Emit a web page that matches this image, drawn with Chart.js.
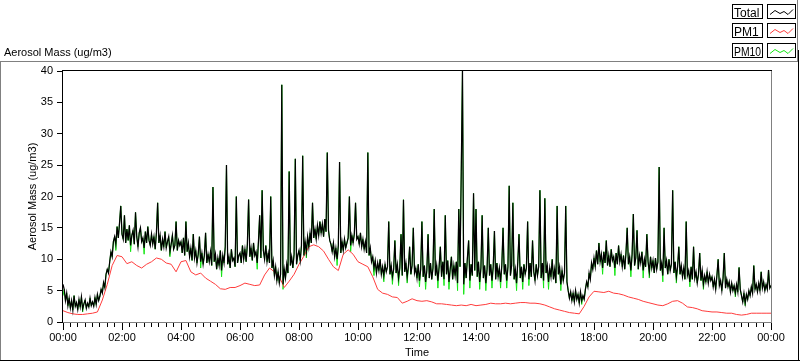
<!DOCTYPE html>
<html><head><meta charset="utf-8">
<script src="https://cdn.jsdelivr.net/npm/chart.js@4"></script>
<style>html,body{margin:0;padding:0;background:#fff;overflow:hidden}canvas{display:block}</style>
</head><body>
<canvas id="c" width="800" height="361"></canvas>
<script>
// ---- data ----
const seriesNames = ['Total', 'PM1', 'PM10'];
const totalStepMin = 2.5;  // minutes between Total / PM10 samples
const pm1StepMin = 10;     // minutes between PM1 samples

// one row per hour
const total = [
 6.0,5.2,3.4,4.6,2.6,3.8,2.2,3.4,1.9,4.2,2.5,3.1,2.0,3.6,2.4,4.0,2.1,2.9,3.5,2.2,3.0,2.4,3.8,2.6,
 3.2,2.5,3.9,2.8,4.4,3.4,4.1,5.2,4.6,6.3,5.5,7.6,8.4,7.8,9.6,11.2,10.4,12.8,13.6,12.4,15.2,13.4,15.8,18.5,
 14.0,13.2,17.0,12.6,14.8,13.0,15.4,12.2,13.8,14.6,12.4,17.5,13.6,12.0,14.2,15.0,12.8,13.4,11.8,14.4,12.6,15.2,13.0,12.2,
 14.0,12.4,13.6,11.6,14.2,19.0,12.6,13.8,11.4,13.2,12.0,14.4,11.8,12.8,13.6,11.2,12.4,13.8,11.6,12.2,16.0,11.4,13.0,12.2,
 12.8,11.0,13.4,10.6,16.0,11.2,12.6,10.4,11.8,9.8,14.0,10.2,11.4,9.4,10.8,13.6,9.6,11.0,9.2,10.6,14.2,9.4,10.8,9.6,
 11.2,9.0,21.5,9.6,10.8,8.4,10.2,9.0,11.4,8.2,10.6,9.4,12.0,25.0,9.2,10.4,8.6,11.6,9.8,10.2,8.8,20.0,9.4,10.6,
 11.0,9.4,12.2,10.0,11.6,9.6,12.4,19.5,10.4,11.8,9.8,12.6,10.6,11.2,9.4,12.8,17.0,10.2,21.0,11.4,10.0,12.2,9.6,11.0,
 9.4,20.0,8.6,9.8,7.4,8.8,6.6,8.0,6.2,7.6,37.8,6.0,8.4,7.0,9.2,7.8,24.0,9.0,10.4,8.6,10.8,26.0,9.2,10.6,
 11.4,9.8,12.2,26.5,10.6,12.8,11.2,13.6,12.0,14.2,12.6,19.0,13.4,14.8,13.2,15.4,13.8,16.0,14.2,15.6,13.6,16.4,14.4,27.0,
 14.6,13.0,12.4,11.2,12.6,10.4,11.8,10.0,12.2,25.5,11.0,12.8,11.4,13.2,11.8,12.6,13.4,20.0,12.2,13.8,12.6,14.0,19.0,13.2,
 13.6,12.4,14.2,12.0,13.2,11.6,12.8,11.0,27.0,10.6,11.8,9.6,10.4,8.6,9.8,7.8,9.4,8.2,10.0,7.6,8.8,7.4,9.2,8.0,
 8.8,16.0,7.6,9.0,7.2,8.4,13.0,7.8,9.2,7.0,8.6,14.0,7.4,19.5,8.0,9.4,7.2,8.8,12.0,7.6,9.0,15.0,7.8,8.6,
 7.0,9.2,6.6,8.4,16.0,7.2,9.0,6.4,8.2,14.0,7.0,9.4,6.8,8.6,18.0,7.4,9.0,6.6,8.8,12.0,7.2,9.6,6.8,17.0,
 7.6,9.8,6.4,8.4,10.4,6.8,9.0,7.4,9.6,6.2,18.0,8.8,24.0,40.0,6.0,9.4,7.0,10.2,13.0,6.6,9.2,7.4,20.5,8.2,
 18.0,7.2,9.6,6.4,8.6,17.0,7.0,9.0,6.2,8.4,15.0,7.4,9.2,6.6,8.8,14.5,6.8,9.4,7.2,8.6,6.4,9.0,15.0,7.6,
 9.2,6.6,8.8,21.7,7.4,9.0,19.0,6.8,8.4,6.2,9.6,14.0,7.0,8.8,6.4,9.2,7.6,8.6,16.0,6.8,9.4,7.2,13.0,8.0,
 6.6,9.2,7.4,8.8,21.0,7.0,9.4,6.6,19.7,7.8,9.0,6.4,8.6,7.2,10.0,6.8,8.4,6.2,18.5,7.6,8.8,6.0,8.2,6.6,
 7.8,18.5,6.4,5.0,3.8,4.8,3.4,4.6,3.2,5.0,3.6,4.4,3.0,4.8,3.4,4.2,3.6,5.2,6.4,5.6,7.8,6.8,9.4,8.4,
 10.2,8.8,11.4,9.2,12.6,9.6,10.8,8.6,11.2,9.4,13.0,9.0,10.6,8.8,11.6,9.8,10.4,8.6,11.0,9.2,12.2,9.6,10.8,8.8,
 10.6,8.4,11.0,15.0,9.2,10.4,8.2,10.8,17.2,9.0,10.2,14.6,8.4,10.6,9.4,11.2,8.2,10.0,8.8,14.0,9.6,8.0,10.4,8.6,
 9.8,7.8,10.2,8.4,9.6,24.7,8.2,9.4,7.4,15.0,8.6,9.8,7.6,10.0,8.2,9.2,21.0,7.8,9.6,7.2,8.8,12.0,7.6,9.0,
 7.2,8.6,6.8,16.0,7.4,8.2,6.4,8.8,6.8,12.0,7.0,8.0,6.2,7.6,11.0,6.6,8.2,6.0,7.4,6.4,8.0,6.2,7.6,6.6,
 7.2,5.6,6.8,5.2,7.4,10.0,5.8,6.6,5.0,7.0,11.0,5.4,6.8,5.6,6.4,4.8,6.2,5.0,5.8,4.6,6.0,4.8,8.7,5.2,
 4.2,3.2,4.6,3.0,4.4,3.6,5.0,4.2,5.6,4.6,9.0,5.2,6.0,4.8,6.2,5.0,8.0,5.4,6.4,5.0,6.0,5.2,8.3,5.4,5.8
];

const pm10 = [
 4.2,5.2,3.4,4.6,2.6,3.8,2.2,3.4,1.9,4.2,2.5,3.1,2.0,3.6,2.4,4.0,1.6,2.9,3.5,2.2,3.0,2.4,3.8,2.6,
 3.2,2.5,3.9,2.8,4.4,3.4,4.1,5.2,4.6,6.3,5.5,7.6,8.4,7.8,9.6,11.2,10.4,12.8,13.6,11.4,15.2,13.4,15.8,18.5,
 14.0,13.2,17.0,12.6,14.8,13.0,15.4,11.2,13.8,14.6,12.4,17.5,13.6,12.0,14.2,15.0,12.8,13.4,10.8,14.4,12.6,15.2,13.0,12.2,
 14.0,12.4,13.6,11.6,14.2,19.0,12.6,13.8,11.4,13.2,12.0,14.4,11.8,12.8,13.6,10.4,12.4,13.8,11.6,12.2,16.0,11.4,13.0,12.2,
 12.8,11.0,13.4,10.6,16.0,11.2,12.6,10.4,11.8,9.8,14.0,10.2,11.4,9.4,10.8,13.6,8.6,11.0,9.2,10.6,14.2,9.4,10.8,9.6,
 11.2,9.0,21.5,9.6,10.8,8.4,10.2,9.0,11.4,7.2,10.6,9.4,12.0,25.0,9.2,10.4,8.6,11.6,9.8,10.2,8.8,20.0,9.4,10.6,
 11.0,9.4,12.2,10.0,11.6,9.6,12.4,19.5,10.4,11.8,9.8,12.6,10.6,11.2,8.4,12.8,17.0,10.2,21.0,11.4,10.0,12.2,9.6,11.0,
 9.4,20.0,8.6,9.8,7.4,8.8,6.6,8.0,6.2,7.6,37.8,5.2,8.4,7.0,9.2,7.8,24.0,9.0,10.4,8.6,10.8,26.0,9.2,10.6,
 11.4,9.8,12.2,26.5,10.6,12.8,10.2,13.6,12.0,14.2,12.6,19.0,13.4,14.8,13.2,15.4,13.8,16.0,14.2,15.6,13.6,16.4,14.4,27.0,
 14.6,13.0,12.4,11.2,12.6,10.4,11.8,9.0,12.2,25.5,11.0,12.8,11.4,13.2,11.8,12.6,13.4,20.0,11.2,13.8,12.6,14.0,19.0,13.2,
 13.6,12.4,14.2,12.0,13.2,11.6,12.8,11.0,27.0,10.6,11.8,9.6,10.4,7.4,9.8,7.8,9.4,8.2,10.0,7.6,8.8,6.4,9.2,8.0,
 8.8,16.0,7.6,9.0,6.0,8.4,13.0,7.8,9.2,5.8,8.6,14.0,7.4,19.5,8.0,9.4,6.2,8.8,12.0,7.6,9.0,15.0,7.8,8.6,
 7.0,9.2,5.6,8.4,16.0,7.2,9.0,5.2,8.2,14.0,7.0,9.4,6.8,8.6,18.0,7.4,9.0,5.4,8.8,12.0,7.2,9.6,5.8,17.0,
 7.6,9.8,5.2,8.4,10.4,6.8,9.0,7.4,9.6,5.0,18.0,8.8,24.0,40.0,4.4,9.4,7.0,10.2,13.0,5.4,9.2,7.4,20.5,8.2,
 18.0,7.2,9.6,5.2,8.6,17.0,7.0,9.0,5.0,8.4,15.0,7.4,9.2,5.4,8.8,14.5,6.8,9.4,7.2,8.6,5.4,9.0,15.0,7.6,
 9.2,5.4,8.8,21.7,7.4,9.0,19.0,6.8,8.4,5.0,9.6,14.0,7.0,8.8,5.2,9.2,7.6,8.6,16.0,5.8,9.4,7.2,13.0,8.0,
 6.6,9.2,7.4,8.8,21.0,7.0,9.4,5.4,19.7,7.8,9.0,5.2,8.6,7.2,10.0,6.8,8.4,6.2,18.5,7.6,8.8,5.0,8.2,6.6,
 7.8,18.5,6.4,5.0,3.8,4.8,3.4,4.6,3.2,5.0,3.6,4.4,3.0,4.8,2.8,4.2,3.6,5.2,6.4,5.6,7.8,6.8,9.4,8.4,
 10.2,8.8,11.4,9.2,12.6,9.6,10.8,7.6,11.2,9.4,13.0,9.0,10.6,8.8,11.6,9.8,10.4,7.4,11.0,9.2,12.2,9.6,10.8,8.8,
 10.6,8.4,11.0,15.0,9.2,10.4,7.2,10.8,17.2,9.0,10.2,14.6,8.4,10.6,9.4,11.2,7.0,10.0,8.8,14.0,9.6,7.0,10.4,8.6,
 9.8,7.8,10.2,8.4,9.6,24.7,8.2,9.4,6.4,15.0,8.6,9.8,7.6,10.0,8.2,9.2,21.0,7.8,9.6,6.2,8.8,12.0,7.6,9.0,
 7.2,8.6,6.8,16.0,7.4,8.2,5.6,8.8,6.8,12.0,7.0,8.0,6.2,7.6,11.0,6.6,8.2,5.2,7.4,6.4,8.0,6.2,7.6,6.6,
 7.2,5.6,6.8,5.2,7.4,10.0,5.8,6.6,5.0,7.0,11.0,5.4,6.8,5.6,6.4,4.8,6.2,5.0,5.8,4.0,6.0,4.8,8.7,5.2,
 4.2,3.2,4.6,2.6,4.4,3.6,5.0,4.2,5.6,4.6,9.0,5.2,6.0,4.8,6.2,5.0,8.0,5.4,6.4,5.0,6.0,5.2,8.3,5.4,5.8
];

const pm1 = [
 1.8,1.5,1.3,1.2,1.2,1.3, 1.4,1.6,3.5,6.0,9.0,10.6,
 10.4,9.3,9.6,9.0,8.6,9.2, 9.6,10.2,10.0,9.4,9.2,8.0,
 9.6,9.8,8.0,7.5,7.8,7.0, 6.5,6.0,5.3,5.2,5.5,5.5,
 5.8,6.2,6.0,5.8,5.9,7.5, 8.6,8.0,7.2,5.5,6.5,7.6,
 9.2,10.5,12.0,12.3,12.0,11.3, 10.0,8.8,8.2,10.8,11.5,10.8,
 9.6,9.2,8.8,7.2,5.2,4.6, 4.4,4.0,3.9,3.0,3.3,3.7,
 3.4,3.3,3.4,3.2,2.9,2.9, 2.8,2.7,2.6,2.7,2.6,2.8,
 2.6,2.7,2.8,3.0,2.9,2.9, 3.0,2.9,3.0,3.1,3.1,3.0,
 3.0,2.9,2.7,2.4,2.1,1.9, 1.7,1.5,1.4,1.3,2.5,4.0,
 4.9,4.8,4.7,4.9,4.6,4.5, 4.3,4.0,3.8,3.6,3.3,3.1,
 2.9,2.7,2.6,2.9,3.3,3.4, 3.0,2.4,2.3,2.1,1.8,1.7,
 1.6,1.6,1.5,1.4,1.4,1.2, 1.1,1.2,1.4,1.4,1.4,1.4,
 1.4
];

const xTickLabels = ['00:00','02:00','04:00','06:00','08:00','10:00','12:00',
                     '14:00','16:00','18:00','20:00','22:00','00:00'];
const xLabelStepH = 2;      // hours between labelled ticks
const xMinorStepH = 0.25;   // hours between minor ticks
const xMaxH = 24;
const yTicks = [0,5,10,15,20,25,30,35,40];

// ---- build ----
const toPts = (arr, stepMin) => arr.map((v, i) => ({ x: i * stepMin / 60, y: v }));
const FONT = '"Liberation Sans", Arial, sans-serif';

const xTickValues = [];
for (let k = 0; k * xMinorStepH <= xMaxH + 1e-9; k++) xTickValues.push(k * xMinorStepH);

function line(ctx, x1, y1, x2, y2) { ctx.beginPath(); ctx.moveTo(x1, y1); ctx.lineTo(x2, y2); ctx.stroke(); }

const decor = {
  id: 'decor',
  afterDraw(chart) {
    const ctx = chart.ctx, a = chart.chartArea, xs = chart.scales.x;
    ctx.save();
    ctx.lineWidth = 1;
    // outer frame
    ctx.strokeStyle = '#808080';
    line(ctx, 0, 61.5, 798, 61.5);
    line(ctx, 0.5, 61, 0.5, 361);
    line(ctx, 797.5, 0, 797.5, 62);
    ctx.strokeStyle = '#000';
    line(ctx, 798.5, 50, 798.5, 361);
    line(ctx, 0, 360.5, 800, 360.5);
    // plot border
    line(ctx, a.left - 1, a.top - 0.5, a.right + 1, a.top - 0.5);
    line(ctx, a.left - 0.5, a.top - 1, a.left - 0.5, a.bottom + 1);
    ctx.strokeStyle = '#808080';
    line(ctx, a.right + 0.5, a.top, a.right + 0.5, a.bottom + 1);
    line(ctx, a.left, a.bottom + 0.5, a.right + 1, a.bottom + 0.5);
    // longer major ticks on time axis
    ctx.strokeStyle = '#000';
    for (let h = 0; h <= xMaxH; h += xLabelStepH) {
      const px = Math.round(xs.getPixelForValue(h)) + 0.5;
      line(ctx, px, a.bottom + 1, px, a.bottom + 8);
    }
    // titles
    ctx.fillStyle = '#000';
    ctx.font = '11px ' + FONT;
    ctx.textAlign = 'left'; ctx.textBaseline = 'alphabetic';
    ctx.fillText('Aerosol Mass (ug/m3)', 4, 56);
    ctx.textAlign = 'center';
    ctx.fillText('Time', (a.left + a.right) / 2, 356);
    ctx.save();
    ctx.translate(36, (a.top + a.bottom) / 2);
    ctx.rotate(-Math.PI / 2);
    ctx.fillText('Aerosol Mass (ug/m3)', 0, 0);
    ctx.restore();
    // legend
    const ds = chart.data.datasets;
    const rowsY = [4, 23, 43];
    ctx.font = '12px ' + FONT;
    ctx.textAlign = 'left';
    [0, 1, 2].forEach((di, r) => {
      const y = rowsY[r];
      ctx.strokeStyle = '#000'; ctx.lineWidth = 1;
      ctx.strokeRect(732.5, y + 0.5, 30, 14);
      ctx.strokeRect(767.5, y + 0.5, 28, 14);
      ctx.fillStyle = '#000';
      ctx.fillText(ds[di].label, 734, y + 12.5, 27);
      ctx.strokeStyle = ds[di].borderColor;
      ctx.beginPath();
      const zz = [[770, 10], [775, 6], [780, 9], [784, 7], [788, 10], [793, 5]];
      zz.forEach((p, i) => i ? ctx.lineTo(p[0], y + p[1] + 0.5) : ctx.moveTo(p[0], y + p[1] + 0.5));
      ctx.stroke();
    });
    ctx.restore();
  }
};

new Chart(document.getElementById('c'), {
  type: 'line',
  data: {
    datasets: [
      { label: seriesNames[0], data: toPts(total, totalStepMin), borderColor: '#000000', borderWidth: 1.25 },
      { label: seriesNames[1], data: toPts(pm1, pm1StepMin), borderColor: '#ff3c3c', borderWidth: 1 },
      { label: seriesNames[2], data: toPts(pm10, totalStepMin), borderColor: '#14e614', borderWidth: 1 }
    ]
  },
  options: {
    responsive: false, animation: false, events: [],
    devicePixelRatio: 1,
    layout: { padding: { left: 0, top: 71, right: 29, bottom: 0 } },
    elements: { point: { radius: 0 }, line: { borderWidth: 1, tension: 0 } },
    plugins: { legend: { display: false }, tooltip: { enabled: false } },
    scales: {
      x: {
        type: 'linear', min: 0, max: xMaxH,
        afterFit: s => { s.height = 39; },
        afterBuildTicks: s => { s.ticks = xTickValues.map(v => ({ value: v })); },
        border: { display: false },
        grid: { drawOnChartArea: false, drawTicks: true, tickLength: 5, color: '#000', offset: false },
        ticks: {
          autoSkip: false, maxRotation: 0, minRotation: 0, padding: 4,
          color: '#000', font: { family: FONT, size: 11 },
          callback: v => {
            const q = Math.round(v / xMinorStepH) * xMinorStepH;
            return (Math.abs(q % xLabelStepH) < 1e-9) ? xTickLabels[Math.round(q / xLabelStepH)] : '';
          }
        }
      },
      y: {
        min: 0, max: 40,
        afterFit: s => { s.width = 63; },
        afterBuildTicks: s => { s.ticks = yTicks.map(v => ({ value: v })); },
        border: { display: false },
        grid: { drawOnChartArea: false, drawTicks: true, tickLength: 6, color: '#000' },
        ticks: { padding: 4, color: '#000', font: { family: FONT, size: 11 } }
      }
    }
  },
  plugins: [decor]
});
</script>
</body></html>
